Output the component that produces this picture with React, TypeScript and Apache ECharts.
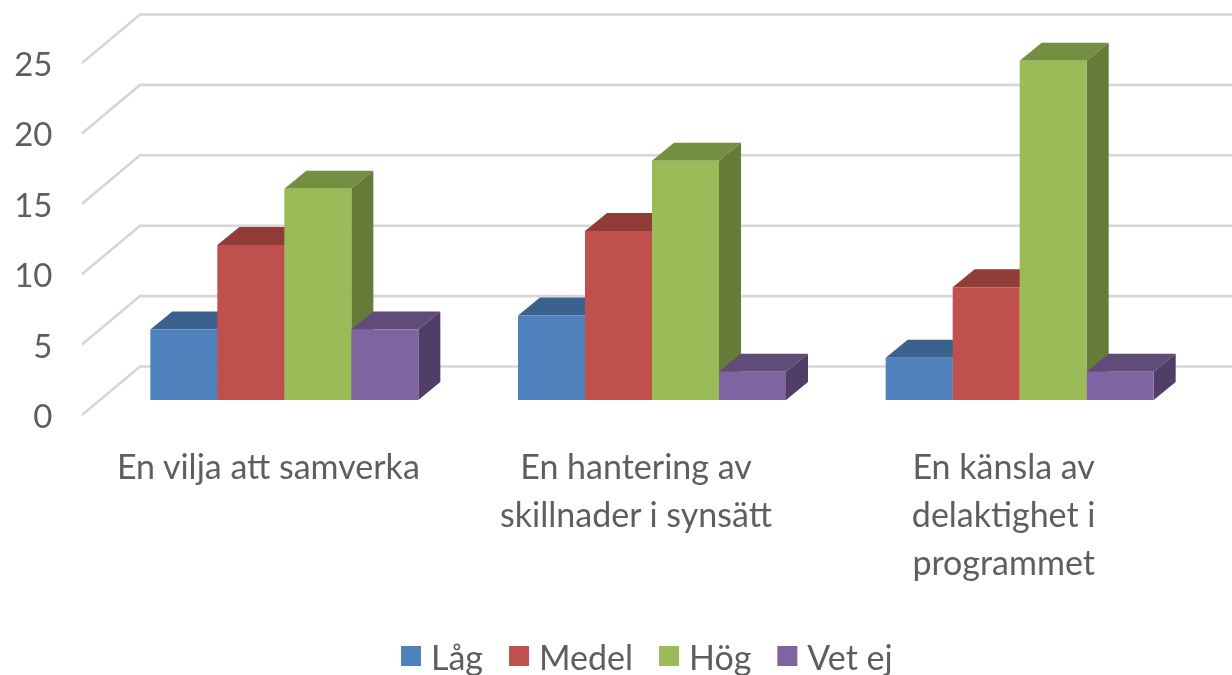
import React, { useEffect, useRef } from "react";
import * as echarts from "echarts";

const categories = ["En vilja att samverka", "En hantering av\nskillnader i synsätt", "En känsla av\ndelaktighet i\nprogrammet"];
const lag = [5, 6, 3];
const medel = [11, 12, 8];
const hog = [15, 17, 24.1];
const vetEj = [5, 2, 2];
const ticks = [0, 5, 10, 15, 20, 25];

const seriesDefs = [
  { name: "Låg", values: lag, front: "#4F81BD", top: "#3B618F", side: "#34567F", slot: 0 },
  { name: "Medel", values: medel, front: "#C0504D", top: "#923C3A", side: "#7F3432", slot: 1 },
  { name: "Hög", values: hog, front: "#9BBB59", top: "#748E42", side: "#657B38", slot: 2 },
  { name: "Vet ej", values: vetEj, front: "#8064A2", top: "#604B7B", side: "#503E67", slot: 3 },
];

const FONT = "Lato";
const TEXT = "#5E5E5E";
const BAR_W = 67;
const GROUP_SHIFT = 16;
const FLOOR_LIFT = 15;
const DEPTH_X = 22;
const DEPTH_Y = 18;

export default function App() {
  const ref = useRef<HTMLDivElement>(null);
  useEffect(() => {
    document.body.style.margin = "0";
    document.body.style.overflow = "hidden";
    const chart = echarts.init(ref.current!, null, { renderer: "svg" });
    const wall = {
      type: "custom",
      silent: true,
      z: 1,
      data: ticks.map((t) => [0, t]),
      renderItem: (_p: any, api: any) => {
        const y = api.coord([0, api.value(1)])[1];
        return {
          type: "polyline",
          shape: { points: [[82, y], [140, y - 48.5], [1232, y - 48.5]] },
          style: { stroke: "#D6D6D6", lineWidth: 2.6, fill: "none" },
        };
      },
    };
    const bars = seriesDefs.map((s) => ({
      type: "custom",
      name: s.name,
      z: 2,
      itemStyle: { color: s.front },
      data: s.values.map((v, i) => [i, v]),
      renderItem: (_p: any, api: any) => {
        const c = api.coord([api.value(0), api.value(1)]);
        const base = api.coord([api.value(0), 0])[1] - FLOOR_LIFT;
        const top = c[1] - FLOOR_LIFT;
        const x0 = c[0] + GROUP_SHIFT - 2 * BAR_W + s.slot * BAR_W;
        const x1 = x0 + BAR_W;
        return {
          type: "group",
          children: [
            {
              type: "polygon",
              shape: { points: [[x0, top], [x0 + DEPTH_X, top - DEPTH_Y], [x1 + DEPTH_X, top - DEPTH_Y], [x1, top]] },
              style: { fill: s.top },
            },
            {
              type: "polygon",
              shape: { points: [[x1, top], [x1 + DEPTH_X, top - DEPTH_Y], [x1 + DEPTH_X, base - DEPTH_Y], [x1, base]] },
              style: { fill: s.side },
            },
            { type: "rect", shape: { x: x0, y: top, width: BAR_W, height: base - top }, style: { fill: s.front } },
          ],
        };
      },
    }));
    chart.setOption({
      animation: false,
      backgroundColor: "#FFFFFF",
      grid: { left: 84.5, top: 63, width: 1103, height: 352 },
      legend: {
        left: 396,
        top: 634,
        icon: "rect",
        itemWidth: 20,
        itemHeight: 20,
        itemGap: 26,
        data: seriesDefs.map((s) => s.name),
        textStyle: { fontFamily: FONT, fontSize: 34, color: TEXT, padding: [0, 0, 0, 5] },
      },
      xAxis: {
        type: "category",
        data: categories,
        axisLine: { show: false },
        axisTick: { show: false },
        axisLabel: { fontFamily: FONT, fontSize: 34, color: TEXT, lineHeight: 48, margin: 26, interval: 0 },
      },
      yAxis: {
        type: "value",
        min: 0,
        max: 25,
        interval: 5,
        axisLine: { show: false },
        axisTick: { show: false },
        splitLine: { show: false },
        axisLabel: { fontFamily: FONT, fontSize: 33, color: TEXT, margin: 32 },
      },
      series: [wall, ...bars],
    });
    return () => chart.dispose();
  }, []);
  return <div ref={ref} style={{ width: 1232, height: 675, filter: "blur(0.6px)" }} />;
}
